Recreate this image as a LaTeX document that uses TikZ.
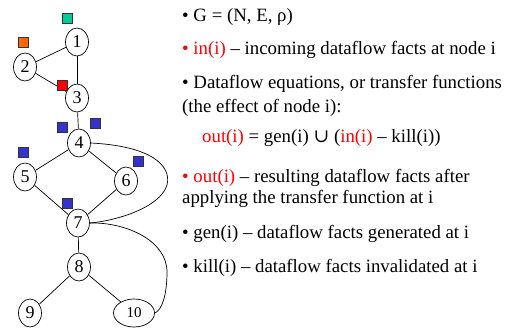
\documentclass[tikz,border=0pt]{standalone}
\usepackage{fontspec}
\setmainfont{Liberation Serif}
\newfontfamily\symfnt{DejaVu Serif}
\usetikzlibrary{shapes.geometric}
\definecolor{sqgreen}{RGB}{0,204,153}
\definecolor{sqorange}{RGB}{255,102,0}
\definecolor{sqred}{RGB}{255,0,0}
\definecolor{sqblue}{RGB}{51,51,204}
\definecolor{txtred}{RGB}{255,0,0}
\tikzset{
  gnode/.style={ellipse,draw,line width=0.7pt,minimum width=23pt,minimum height=28pt,inner sep=0pt,font=\fontsize{18}{18}\selectfont},
  sq/.style={draw=black!80,line width=0.8pt,minimum size=10pt,inner sep=0pt},
  edge/.style={line width=0.7pt},
  txt/.style={anchor=base west,inner sep=0pt,font=\fontsize{18.8}{22}\selectfont}
}
\begin{document}
\begin{tikzpicture}[x=1pt,y=-1pt]
\useasboundingbox (0,0) rectangle (513,329);
% graph nodes
\node[gnode] (n1) at (77,42) {1};
\node[gnode] (n2) at (25,67) {2};
\node[gnode] (n3) at (77,98) {3};
\node[gnode] (n4) at (79,143) {4};
\node[gnode] (n5) at (25,177) {5};
\node[gnode] (n6) at (126,181) {6};
\node[gnode] (n7) at (78,223) {7};
\node[gnode] (n8) at (79,267) {8};
\node[gnode] (n9) at (30,313) {9};
\node[gnode,minimum width=41pt,font=\fontsize{15}{15}\selectfont] (n10) at (134,313) {10};
% edges
\draw[edge] (n1) -- (n2);
\draw[edge] (n1) -- (n3);
\draw[edge] (n2) -- (n3);
\draw[edge] (n3) -- (n4);
\draw[edge] (n4) -- (n5);
\draw[edge] (n4) -- (n6);
\draw[edge] (n5) -- (n7);
\draw[edge] (n6) -- (n7);
\draw[edge] (n7) -- (n8);
\draw[edge] (n8) -- (n9);
\draw[edge] (n8) -- (n10);
\draw[edge] (n4.east) .. controls (150,146) and (172,165) .. (167,185) .. controls (160,208) and (115,221) .. (n7.east);
\draw[edge] (n7.east) .. controls (125,222) and (167,240) .. (167,272) .. controls (167,295) and (162,310) .. (n10.east);
% squares
\node[sq,fill=sqgreen] (s1) at (67,18) {};
\node[sq,fill=sqorange] (s2) at (23,42) {};
\node[sq,fill=sqred] (s3) at (62,85) {};
\node[sq,fill=sqblue] (s4) at (62,127) {};
\node[sq,fill=sqblue] (s5) at (95,123) {};
\node[sq,fill=sqblue] (s6) at (23,152) {};
\node[sq,fill=sqblue] (s7) at (138,161) {};
\node[sq,fill=sqblue] (s8) at (67,203) {};
% text
\node[txt] (t1) at (182,22) {• G = (N, E, ρ)};
\node[txt] (t2) at (182,55) {\textcolor{txtred}{• in(i)} – incoming dataflow facts at node i};
\node[txt] (t3) at (182,88) {• Dataflow equations, or transfer functions};
\node[txt] (t4) at (182,112) {(the effect of node i):};
\node[txt] (t5) at (202,142) {\textcolor{txtred}{out(i)} = gen(i) {\symfnt ∪} (\textcolor{txtred}{in(i)} – kill(i))};
\node[txt] (t6) at (182,182) {\textcolor{txtred}{• out(i)} – resulting dataflow facts after};
\node[txt] (t7) at (182,203) {applying the transfer function at i};
\node[txt] (t8) at (182,238) {• gen(i) – dataflow facts generated at i};
\node[txt] (t9) at (182,272) {• kill(i) – dataflow facts invalidated at i};
\end{tikzpicture}
\end{document}
